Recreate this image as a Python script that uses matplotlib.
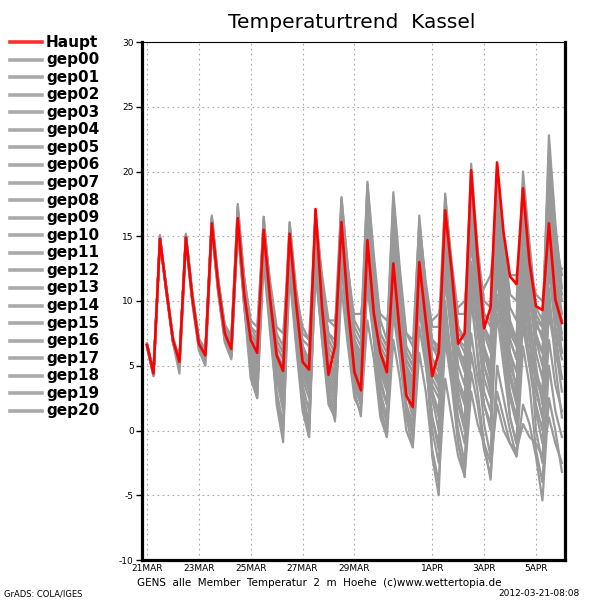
import numpy as np
import matplotlib
matplotlib.use("Agg")
import matplotlib.pyplot as plt
from matplotlib.lines import Line2D

# ---- data (6-hourly, starting 21MAR 00Z) ----
hours = list(range(0, 385, 6))

haupt = [6.6, 4.4, 14.8, 10.8, 7.0, 5.3, 14.9, 10.2, 6.7, 5.8, 16.0, 11.1,
         7.5, 6.3, 16.4, 10.5, 7.0, 6.0, 15.5, 10.1, 5.8, 4.6, 15.2, 9.8,
         5.3, 4.7, 17.1, 9.5, 4.3, 6.5, 16.1, 9.5, 4.5, 3.1, 14.7, 9.0,
         6.0, 4.5, 12.9, 7.5, 2.7, 1.8, 13.0, 8.5, 4.2, 6.0, 17.0, 12.3,
         6.7, 7.5, 20.1, 13.3, 7.9, 9.5, 20.7, 15.3, 11.9, 11.3, 18.7, 13.0,
         9.6, 9.3, 16.0, 10.1, 8.3]

gep00 = [6.5, 4.3, 14.9, 10.7, 7.1, 5.2, 15.0, 10.3, 6.8, 5.6, 16.2, 11.0,
         7.3, 6.0, 16.8, 10.9, 6.5, 5.2, 15.8, 10.0, 5.0, 3.6, 14.5, 9.0,
         4.0, 2.5, 15.5, 9.8, 6.0, 5.0, 17.0, 11.0, 7.0, 5.5, 16.0, 10.0,
         4.0, 2.0, 13.5, 8.0, 3.5, 2.5, 12.0, 8.0, 5.0, 4.0, 15.0, 10.5,
         6.0, 4.5, 17.5, 12.0, 8.0, 6.5, 16.0, 11.0, 6.0, 3.0, 14.0, 9.0,
         5.0, 2.0, 12.5, 8.0, 5.5]
gep01 = [6.7, 4.5, 14.6, 10.9, 6.9, 5.4, 14.7, 10.0, 6.5, 5.9, 15.7, 11.3,
         7.8, 6.6, 16.0, 10.2, 7.5, 6.8, 14.8, 10.5, 7.0, 6.0, 13.5, 9.0,
         5.5, 4.0, 14.0, 8.5, 3.0, 1.5, 13.0, 8.0, 4.0, 2.0, 12.5, 7.5,
         3.0, 1.0, 11.0, 7.0, 2.0, 0.5, 10.5, 6.0, 1.0, -1.5, 9.0, 5.5,
         2.0, 0.5, 12.0, 7.5, 4.0, 2.5, 14.0, 9.5, 6.0, 4.5, 15.5, 10.0,
         7.0, 6.0, 14.0, 9.5, 7.0]
gep02 = [6.4, 4.2, 15.1, 10.6, 7.2, 5.1, 15.2, 10.4, 6.9, 5.5, 16.5, 11.5,
         7.9, 6.9, 17.3, 11.8, 8.0, 7.5, 16.5, 11.0, 7.5, 6.5, 16.0, 11.0,
         7.5, 7.0, 16.5, 12.0, 8.5, 8.0, 18.0, 12.5, 8.5, 7.5, 19.2, 13.5,
         8.5, 7.0, 18.4, 12.5, 7.5, 6.5, 16.0, 11.0, 7.0, 6.0, 18.3, 12.5,
         8.0, 7.0, 20.6, 14.0, 9.0, 8.0, 19.0, 13.0, 8.0, 6.5, 17.0, 12.0,
         8.0, 7.5, 22.8, 16.0, 11.0]
gep03 = [6.6, 4.3, 14.7, 10.8, 6.8, 4.4, 14.5, 9.8, 6.2, 5.0, 15.5, 10.5,
         6.8, 5.5, 15.8, 9.8, 4.5, 2.5, 14.5, 8.5, 2.0, -0.9, 13.5, 7.0,
         2.0, -0.5, 14.0, 7.5, 3.0, 0.7, 14.5, 8.0, 3.0, 1.1, 15.0, 8.5,
         2.0, -0.5, 14.0, 7.5, 1.0, -1.3, 13.0, 7.0, -2.0, -5.0, 10.0, 5.0,
         -1.0, -3.6, 11.0, 5.5, 0.5, -2.0, 12.5, 6.5, 1.0, -1.0, 13.0, 7.5,
         0.0, -2.5, 11.0, 5.0, 1.0]
gep04 = [6.6, 4.4, 14.9, 10.9, 7.0, 5.3, 15.1, 10.5, 7.0, 6.0, 16.3, 11.6,
         8.0, 7.0, 16.9, 11.5, 8.0, 7.0, 15.0, 10.5, 6.5, 5.5, 14.5, 10.0,
         6.0, 5.0, 16.0, 11.0, 7.5, 6.5, 15.0, 10.0, 5.5, 4.0, 17.5, 12.0,
         7.0, 6.0, 16.0, 11.0, 6.0, 5.0, 14.0, 9.5, 6.5, 6.0, 14.0, 10.0,
         7.0, 6.5, 13.0, 9.0, 6.0, 4.0, 10.0, 7.0, 4.0, 2.0, 8.0, 5.0,
         3.0, 1.0, 9.0, 6.0, 4.0]
gep05 = [6.5, 4.5, 14.8, 10.7, 7.0, 5.5, 14.8, 10.0, 6.4, 5.7, 15.9, 10.8,
         7.0, 5.8, 16.2, 10.0, 6.0, 4.0, 15.0, 9.0, 4.5, 2.0, 14.0, 8.0,
         3.5, 1.5, 15.0, 8.5, 4.0, 2.5, 16.5, 10.0, 6.0, 5.0, 14.0, 9.5,
         5.5, 4.0, 12.0, 7.0, 3.0, 1.0, 11.5, 6.5, 2.5, 0.0, 13.0, 7.5,
         3.0, 0.5, 16.0, 9.0, 5.0, 3.0, 18.5, 11.5, 7.0, 5.5, 19.0, 12.5,
         8.5, 7.0, 17.5, 11.0, 7.0]
gep06 = [6.7, 4.6, 14.7, 11.0, 7.2, 5.6, 15.0, 10.6, 7.1, 6.3, 16.1, 11.4,
         8.2, 7.3, 16.0, 11.8, 8.5, 8.0, 15.5, 11.5, 8.0, 7.5, 14.0, 10.5,
         8.0, 7.0, 13.0, 10.0, 8.5, 8.5, 12.0, 10.0, 9.0, 9.0, 13.0, 10.5,
         9.0, 8.5, 11.0, 9.5, 7.5, 7.0, 9.0, 8.0, 8.5, 9.0, 11.0, 9.5,
         9.5, 10.0, 14.0, 11.5, 11.0, 12.0, 16.0, 13.0, 12.0, 12.0, 15.0, 12.5,
         10.5, 10.0, 13.0, 11.5, 12.5]
gep07 = [6.6, 4.4, 14.8, 10.6, 6.9, 5.0, 14.6, 10.1, 6.6, 5.4, 15.6, 10.6,
         7.2, 5.9, 15.5, 9.5, 5.5, 3.5, 13.5, 8.0, 4.0, 1.5, 12.5, 7.0,
         3.0, 0.5, 12.0, 7.5, 5.0, 4.0, 12.5, 8.0, 4.5, 3.0, 11.0, 7.0,
         2.5, 0.5, 9.0, 5.5, 1.5, -0.5, 8.0, 5.0, 1.0, -1.0, 7.5, 4.0,
         0.0, -2.5, 6.0, 3.0, -1.0, -3.8, 5.0, 2.5, 0.0, -2.0, 6.5, 3.5,
         -1.5, -4.0, 5.0, 1.5, -0.5]
gep08 = [6.5, 4.3, 14.8, 10.8, 7.0, 5.3, 15.0, 10.3, 6.8, 5.8, 16.4, 11.3,
         7.7, 6.5, 17.0, 11.0, 7.0, 6.0, 16.2, 10.5, 6.0, 4.5, 15.5, 10.5,
         6.5, 5.5, 16.8, 11.5, 7.0, 6.0, 17.5, 12.0, 7.5, 6.5, 18.0, 12.5,
         7.5, 6.5, 17.0, 11.5, 6.0, 5.0, 15.0, 10.0, 5.0, 3.5, 16.0, 11.0,
         6.5, 5.0, 18.5, 12.5, 8.0, 7.0, 20.0, 14.0, 9.5, 8.5, 20.0, 14.5,
         9.5, 8.5, 20.5, 14.5, 10.5]
gep09 = [6.7, 4.5, 14.9, 10.7, 7.1, 5.4, 14.8, 10.2, 6.6, 5.9, 15.8, 11.0,
         7.4, 6.2, 16.5, 10.4, 6.8, 5.5, 14.0, 9.0, 5.0, 3.0, 13.0, 8.5,
         5.0, 3.5, 14.5, 9.0, 5.5, 4.0, 15.0, 9.5, 5.0, 3.5, 16.5, 10.5,
         6.5, 5.5, 15.0, 9.5, 4.5, 3.0, 12.5, 7.5, 3.0, 1.5, 12.0, 7.0,
         2.0, 0.0, 10.0, 6.0, 2.0, 0.0, 9.0, 5.0, 1.0, -1.0, 10.0, 5.5,
         2.0, 0.0, 13.0, 7.5, 4.0]
gep10 = [6.6, 4.4, 14.7, 10.8, 7.0, 5.2, 14.9, 10.4, 6.9, 6.1, 16.2, 11.2,
         7.6, 6.4, 16.6, 10.8, 7.5, 6.5, 16.0, 10.0, 5.5, 4.0, 16.1, 10.5,
         6.5, 5.0, 15.0, 9.5, 5.0, 3.5, 14.0, 9.0, 5.5, 4.5, 13.5, 8.5,
         4.5, 3.0, 14.5, 9.5, 5.0, 4.0, 16.6, 11.0, 6.5, 5.5, 17.5, 12.0,
         8.0, 7.0, 16.0, 11.0, 6.5, 4.5, 12.0, 8.0, 4.5, 2.5, 11.0, 7.0,
         3.5, 1.0, 10.0, 6.5, 3.0]
gep11 = [6.5, 4.2, 14.8, 10.9, 7.1, 5.3, 14.9, 10.1, 6.7, 5.7, 15.9, 11.1,
         7.3, 6.1, 16.2, 10.0, 6.0, 4.5, 14.5, 9.5, 5.5, 4.0, 14.0, 9.0,
         4.5, 3.0, 13.0, 8.0, 3.5, 2.0, 13.5, 8.5, 4.0, 2.5, 13.0, 8.0,
         3.5, 2.0, 12.5, 8.0, 4.0, 3.0, 10.0, 6.5, 3.0, 1.0, 8.0, 4.5,
         1.0, -1.0, 7.5, 4.0, 2.0, 0.5, 10.5, 6.0, 3.0, 1.0, 12.0, 7.0,
         4.0, 2.5, 14.5, 9.0, 6.0]
gep12 = [6.6, 4.3, 14.9, 10.8, 6.9, 5.2, 15.0, 10.3, 6.8, 5.6, 16.0, 11.0,
         7.5, 6.4, 16.3, 10.7, 6.5, 5.0, 15.2, 9.8, 5.5, 4.0, 15.0, 9.5,
         5.0, 3.5, 16.0, 10.5, 6.0, 5.0, 16.0, 10.5, 6.5, 5.5, 15.5, 10.0,
         6.0, 5.0, 14.0, 9.0, 5.0, 3.5, 14.5, 9.5, 5.5, 4.5, 15.5, 10.0,
         5.0, 3.5, 17.0, 11.0, 6.5, 5.0, 17.5, 11.5, 7.0, 5.5, 16.0, 11.0,
         6.0, 4.0, 15.0, 10.0, 6.0]
gep13 = [6.6, 4.5, 14.6, 10.6, 6.8, 5.0, 14.7, 10.0, 6.5, 5.5, 15.5, 10.8,
         7.0, 5.6, 15.9, 9.9, 5.0, 3.0, 14.0, 8.0, 3.0, 0.5, 13.5, 7.5,
         2.5, 0.0, 13.5, 7.0, 2.5, 1.0, 14.0, 8.0, 3.5, 2.0, 12.0, 7.0,
         1.5, 0.0, 10.0, 6.0, 2.0, 0.0, 9.5, 5.5, 0.0, -2.5, 7.0, 3.5,
         -1.0, -3.0, 4.5, 2.0, -1.5, -3.5, 3.0, 1.0, -1.0, -2.0, 2.0, 0.5,
         -2.0, -5.4, 2.5, 0.0, -3.2]
gep14 = [6.7, 4.4, 14.8, 10.7, 7.0, 5.4, 15.1, 10.5, 7.0, 6.0, 16.6, 11.7,
         8.0, 6.8, 17.5, 11.5, 7.5, 6.5, 16.0, 11.0, 7.0, 6.0, 15.5, 10.0,
         6.0, 4.5, 17.0, 11.5, 7.0, 6.0, 18.0, 12.5, 8.0, 7.0, 19.0, 13.0,
         7.5, 6.5, 18.0, 12.0, 6.5, 5.5, 16.0, 11.5, 8.0, 8.0, 18.0, 13.0,
         9.0, 9.0, 19.5, 14.0, 10.0, 9.5, 20.5, 14.5, 10.5, 10.0, 19.0, 13.5,
         9.0, 8.0, 21.5, 15.0, 12.0]
gep15 = [6.6, 4.4, 14.8, 10.8, 7.0, 5.3, 14.9, 10.2, 6.6, 5.8, 16.1, 11.2,
         7.6, 6.4, 16.6, 10.6, 7.0, 6.0, 15.0, 9.5, 4.5, 2.5, 14.5, 9.0,
         5.0, 4.0, 16.0, 10.0, 4.5, 3.0, 15.5, 10.0, 5.0, 3.5, 14.0, 9.0,
         5.0, 4.0, 11.5, 7.5, 3.5, 2.0, 13.5, 8.5, 4.5, 3.5, 14.5, 9.0,
         4.0, 2.5, 15.0, 9.5, 5.0, 3.5, 15.0, 9.5, 5.0, 3.5, 13.0, 8.5,
         4.5, 3.0, 16.5, 10.5, 7.5]
gep16 = [6.5, 4.4, 14.7, 10.8, 7.0, 5.5, 15.0, 10.3, 6.9, 5.9, 16.2, 11.2,
         7.5, 6.2, 16.4, 10.6, 6.5, 5.0, 15.5, 10.0, 5.5, 4.0, 15.5, 9.5,
         4.5, 3.5, 15.5, 9.5, 5.5, 4.5, 16.5, 11.0, 6.0, 4.5, 17.0, 11.5,
         6.5, 5.5, 16.5, 10.5, 4.0, 2.5, 14.0, 9.0, 4.0, 3.0, 16.5, 11.0,
         7.5, 7.0, 18.0, 13.0, 9.0, 8.5, 18.5, 13.0, 8.5, 7.0, 17.5, 12.0,
         7.5, 6.0, 18.5, 12.5, 9.0]
gep17 = [6.6, 4.4, 14.8, 10.8, 6.9, 5.1, 14.8, 10.0, 6.5, 5.6, 15.8, 10.7,
         7.1, 5.7, 15.8, 9.6, 4.0, 2.5, 13.0, 7.5, 2.5, 0.0, 12.0, 6.5,
         1.5, -0.5, 12.5, 7.0, 2.0, 1.0, 11.0, 6.5, 2.5, 1.5, 8.5, 5.5,
         1.0, -0.5, 7.0, 4.0, 0.0, -1.3, 6.0, 3.0, -1.5, -4.0, 4.0, 1.0,
         -2.0, -3.5, 3.0, 0.5, -1.0, -2.5, 2.0, 0.0, -1.0, -1.5, 0.5, -0.5,
         -1.0, -2.0, 1.0, -1.0, -2.5]
gep18 = [6.7, 4.5, 14.8, 10.8, 7.1, 5.4, 14.9, 10.3, 6.8, 5.9, 16.0, 11.0,
         7.5, 6.3, 16.4, 10.5, 7.0, 5.8, 15.0, 10.0, 6.0, 5.0, 14.0, 9.5,
         7.0, 6.5, 14.5, 10.0, 7.5, 7.0, 15.5, 11.0, 7.0, 6.0, 15.0, 10.0,
         5.0, 3.5, 13.5, 9.0, 5.5, 4.5, 12.5, 9.0, 7.0, 6.5, 14.0, 10.5,
         7.0, 6.0, 13.0, 9.5, 6.0, 5.0, 14.0, 10.0, 7.5, 6.5, 17.0, 12.0,
         8.5, 8.0, 19.5, 13.5, 10.0]
gep19 = [6.6, 4.3, 14.8, 10.7, 7.0, 5.2, 14.9, 10.2, 6.7, 5.7, 16.0, 11.1,
         7.4, 6.1, 16.5, 10.3, 6.0, 4.5, 15.5, 9.5, 5.0, 3.5, 14.5, 9.5,
         5.5, 4.5, 15.5, 9.0, 4.0, 2.5, 14.5, 9.0, 3.5, 2.0, 14.0, 9.0,
         4.5, 3.5, 13.0, 8.5, 4.5, 3.5, 11.0, 7.5, 3.5, 2.5, 11.5, 7.5,
         3.5, 2.0, 12.5, 8.0, 3.0, 1.5, 13.5, 8.5, 2.5, 0.5, 9.0, 5.0,
         1.5, -1.0, 7.0, 3.5, 1.5]
gep20 = [6.5, 4.4, 14.9, 10.9, 7.0, 5.3, 15.0, 10.4, 6.8, 5.8, 16.3, 11.4,
         7.7, 6.6, 16.8, 11.0, 7.5, 6.5, 16.5, 10.5, 6.5, 5.5, 15.0, 9.5,
         5.5, 4.0, 14.5, 9.5, 6.5, 5.5, 17.0, 11.5, 6.5, 5.0, 16.5, 11.0,
         6.0, 5.0, 15.5, 10.5, 5.5, 4.5, 15.0, 10.0, 5.5, 5.0, 17.0, 12.0,
         6.0, 5.5, 19.0, 13.0, 7.5, 6.0, 19.5, 13.5, 8.0, 7.0, 18.0, 13.0,
         7.0, 5.0, 17.0, 11.5, 8.5]

members = [gep00, gep01, gep02, gep03, gep04, gep05, gep06, gep07, gep08, gep09,
           gep10, gep11, gep12, gep13, gep14, gep15, gep16, gep17, gep18, gep19, gep20]
member_names = ["gep%02d" % k for k in range(21)]

tick_days = [0, 2, 4, 6, 8, 11, 13, 15]
tick_labels = ["21MAR", "23MAR", "25MAR", "27MAR", "29MAR", "1APR", "3APR", "5APR"]
y_ticks = [-10, -5, 0, 5, 10, 15, 20, 25, 30]

# ---- figure ----
W, H = 600, 600
fig = plt.figure(figsize=(6, 6), dpi=100)
fig.patch.set_facecolor("white")

def fx(px):
    return px / W

def fy(py):
    return 1 - py / H

ax = fig.add_axes([fx(142), fy(560), fx(565) - fx(142), fy(42) - fy(560)])
days = np.array(hours) / 24.0

GRAY = "#999999"
RED = "#ff0000"
for m in members:
    ax.plot(days, m, color=GRAY, lw=1.6, solid_joinstyle="round", zorder=2)
ax.plot(days, haupt, color=RED, lw=1.9, solid_joinstyle="round", zorder=3)

ax.set_xlim(-0.193, 16.12)
ax.set_ylim(-10, 30)
ax.set_xticks(tick_days)
ax.set_xticklabels(tick_labels, fontsize=6.5)
ax.set_yticks(y_ticks)
ax.set_yticklabels([str(v) for v in y_ticks], fontsize=6.5)
ax.tick_params(axis="y", direction="out", length=4, width=1, pad=2)
ax.tick_params(axis="x", direction="out", length=0, pad=3)
ax.grid(True, color="#a8a8a8", lw=0.8, linestyle=(0, (1.5, 3)), zorder=1)

for s in ["left", "bottom", "right"]:
    ax.spines[s].set_linewidth(2.3)
ax.spines["top"].set_linewidth(0.8)
for s in ax.spines.values():
    s.set_color("black")
    s.set_zorder(5)

# ---- legend (left column) ----
names = ["Haupt"] + member_names
colors = ["#ff3030"] + ["#aaaaaa"] * 21
for k, (nm, c) in enumerate(zip(names, colors)):
    y = 42 + k * 17.57
    fig.add_artist(Line2D([fx(10), fx(42)], [fy(y), fy(y)], color=c, lw=2.6,
                          transform=fig.transFigure))
    fig.text(fx(46), fy(y), nm, fontsize=11, fontweight="bold",
             va="center", ha="left", color="black")

# ---- titles and captions ----
fig.text(fx(352), fy(23), "Temperaturtrend  Kassel", fontsize=14.5,
         ha="center", va="center")
fig.text(fx(319), fy(583), "GENS  alle  Member  Temperatur  2  m  Hoehe  (c)www.wettertopia.de",
         fontsize=7.5, ha="center", va="center")
fig.text(fx(4), fy(594), "GrADS: COLA/IGES", fontsize=6, ha="left", va="center")
fig.text(fx(580), fy(594), "2012-03-21-08:08", fontsize=6.5, ha="right", va="center")

fig.savefig("out.png", dpi=100, facecolor="white")
